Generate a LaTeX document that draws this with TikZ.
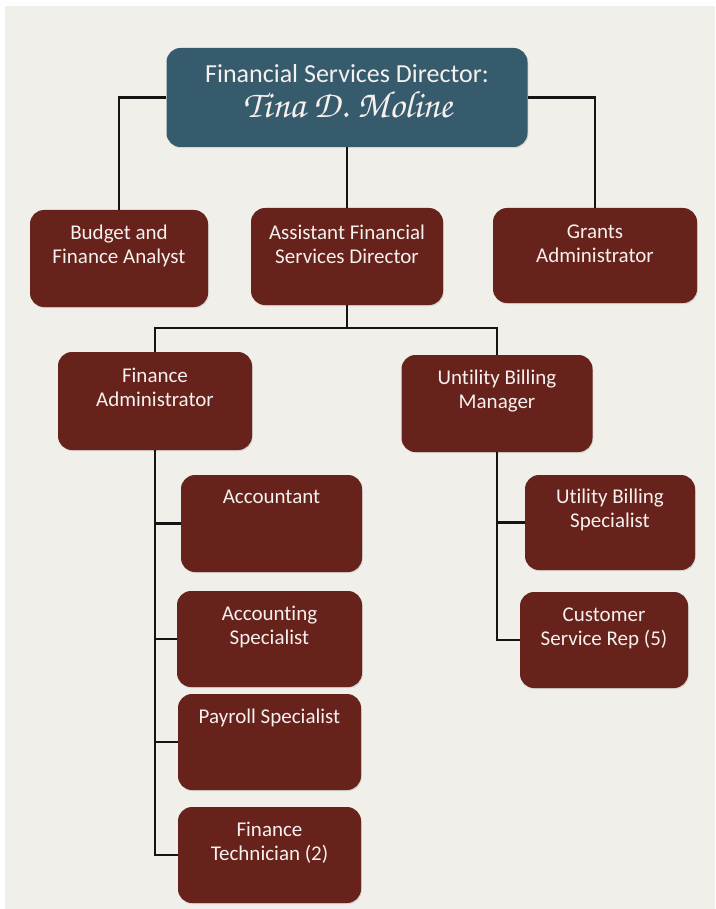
\documentclass[tikz,border=0pt]{standalone}
\usepackage{fontspec}
\setmainfont{Carlito}[Ligatures=NoCommon]
\newfontfamily\namefont{TeX Gyre Chorus}
\usetikzlibrary{shadows,calc}
\definecolor{bg}{RGB}{240,239,234}
\definecolor{boxred}{RGB}{102,34,27}
\definecolor{boxteal}{RGB}{54,91,108}
\definecolor{txtc}{RGB}{246,240,238}
\begin{document}
\begin{tikzpicture}[x=1pt,y=-1pt,
  box/.style={draw=none, fill=boxred, rounded corners=14pt,
    drop shadow={shadow xshift=0.8pt, shadow yshift=-1.2pt, opacity=0.22}},
  txtnode/.style={text=txtc, font=\fontsize{21}{24}\selectfont, align=center, anchor=base, inner sep=0pt},
  conn/.style={draw=black!92, line width=2.4pt}]
\useasboundingbox (0,0) rectangle (715,909);
\fill[white] (0,0) rectangle (715,909);
\fill[bg] (5,6) rectangle (715,909);

% boxes
\node[box, fill=boxteal, minimum width=361pt, minimum height=99pt] (dir) at (347,97.5) {};
\node[box, minimum width=178pt, minimum height=97pt] (budget) at (119,258.5) {};
\node[box, minimum width=192pt, minimum height=97pt] (asst) at (347,256.5) {};
\node[box, minimum width=204pt, minimum height=95pt] (grants) at (595,255.5) {};
\node[box, minimum width=194pt, minimum height=98pt] (fa) at (155,401) {};
\node[box, minimum width=191pt, minimum height=97pt] (ubm) at (497,403.5) {};
\node[box, minimum width=181pt, minimum height=97pt] (acct) at (271.5,523.5) {};
\node[box, minimum width=185pt, minimum height=96pt] (accspec) at (269.5,639) {};
\node[box, minimum width=183pt, minimum height=96pt] (payroll) at (269.5,742) {};
\node[box, minimum width=183pt, minimum height=96pt] (fintech) at (269.5,855) {};
\node[box, minimum width=170pt, minimum height=95pt] (ubs) at (610,522.5) {};
\node[box, minimum width=168pt, minimum height=96pt] (csr) at (604,640) {};

% connectors
\coordinate (j1) at (347,328);
\draw[conn] (dir.west) -| (budget.north);
\draw[conn] (dir.east) -| (grants.north);
\draw[conn] (dir.south) -- (asst.north);
\draw[conn] (asst.south) -- (j1);
\draw[conn] (fa.north) |- (j1) -| (ubm.north);
\draw[conn] (fa.south) -- (fa.south |- fintech.west) -- (fintech.west);
\draw[conn] (fa.south |- acct.west) -- (acct.west);
\draw[conn] (fa.south |- accspec.west) -- (accspec.west);
\draw[conn] (fa.south |- payroll.west) -- (payroll.west);
\draw[conn] (ubm.south) -- (ubm.south |- csr.west) -- (csr.west);
\draw[conn] (ubm.south |- ubs.west) -- (ubs.west);

% texts
\node[txtnode, font=\fontsize{26}{30}\selectfont] (dirt) at (347,83) {Financial Services Director:};
\node[txtnode, font=\fontsize{38}{42}\namefont] (dirn) at (348,118) {Tina D. Moline};
\node[txtnode] (budgett) at (119,263) {Budget and\\Finance Analyst};
\node[txtnode] (asstt) at (347,263) {Assistant Financial\\Services Director};
\node[txtnode] (grantst) at (595,262) {Grants\\Administrator};
\node[txtnode] (fat) at (155,406) {Finance\\Administrator};
\node[txtnode] (ubmt) at (497,408) {Untility Billing\\Manager};
\node[txtnode] (acctt) at (271.5,503) {Accountant};
\node[txtnode] (accspect) at (269.5,644) {Accounting\\Specialist};
\node[txtnode] (payrollt) at (269.5,723) {Payroll Specialist};
\node[txtnode] (fintecht) at (269.5,860) {Finance\\Technician (2)};
\node[txtnode] (ubst) at (610,527) {Utility Billing\\Specialist};
\node[txtnode] (csrt) at (604,645) {Customer\\Service Rep (5)};
\end{tikzpicture}
\end{document}
